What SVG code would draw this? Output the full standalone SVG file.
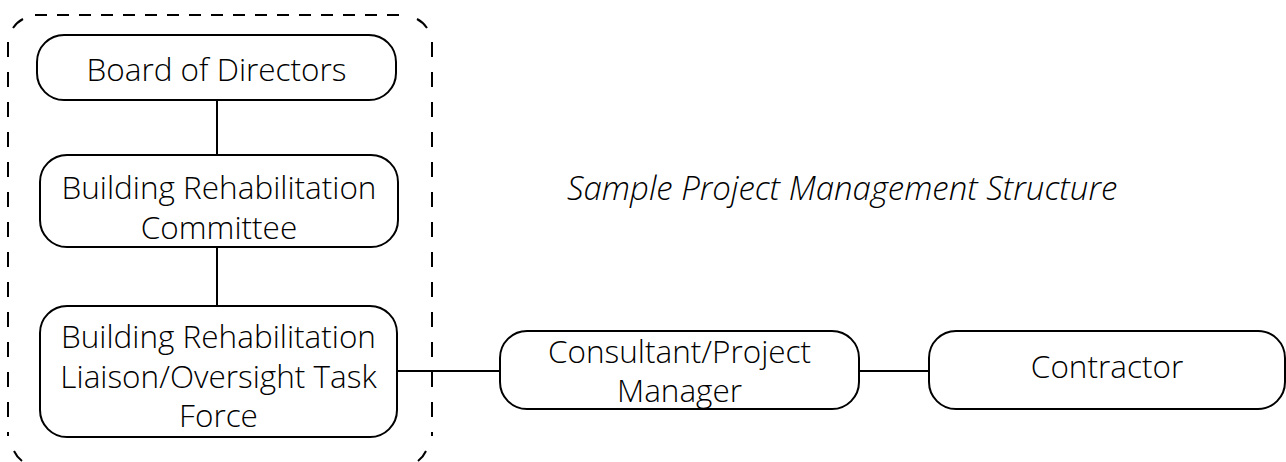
<svg xmlns="http://www.w3.org/2000/svg" width="1286" height="462" viewBox="0 0 1286 462">
  <style>
    .box { fill: #ffffff; stroke: #000000; stroke-width: 2; }
    .lbl { font-family: "Open Sans", Lato, "Liberation Sans", sans-serif; font-weight: 300; font-size: 31.5px; fill: #000000; text-anchor: middle; font-variant-ligatures: none; }
    .title { font-family: "Open Sans", Lato, "Liberation Sans", sans-serif; font-weight: 300; font-size: 33px; font-style: italic; fill: #000000; font-variant-ligatures: none; }
    .wire { stroke: #000000; stroke-width: 2; fill: none; }
    .group-edge { stroke: #000000; stroke-width: 2; fill: none; }
  </style>
  <rect width="1286" height="462" fill="#ffffff"/>

  <!-- dashed boundary around the board-side bodies -->
  <g id="board-group">
    <path class="group-edge" stroke-dasharray="12 10" d="M 35 15 H 405"/>
    <path class="group-edge" stroke-dasharray="15 15" d="M 8 42 V 436"/>
    <path class="group-edge" stroke-dasharray="15 15" d="M 432 42 V 436"/>
    <path class="group-edge" d="M 13 28 A 27 27 0 0 1 23 19"/>
    <path class="group-edge" d="M 417 19 A 27 27 0 0 1 427 28"/>
    <path class="group-edge" d="M 14 451 A 27 27 0 0 0 22 461"/>
    <path class="group-edge" d="M 418 461 A 27 27 0 0 0 426 451"/>
  </g>

  <g id="connectors">
    <line class="wire" x1="217" y1="100" x2="217" y2="155"/>
    <line class="wire" x1="217" y1="247" x2="217" y2="306"/>
    <line class="wire" x1="397" y1="371" x2="500" y2="371"/>
    <line class="wire" x1="859" y1="371" x2="929" y2="371"/>
  </g>

  <g id="board-of-directors">
    <rect class="box" x="37" y="35" width="359" height="65" rx="27"/>
    <text class="lbl" x="216.5" y="81">Board of Directors</text>
  </g>

  <g id="rehab-committee">
    <rect class="box" x="40" y="155" width="358" height="92" rx="27"/>
    <text class="lbl" x="219" y="199">Building Rehabilitation</text>
    <text class="lbl" x="219" y="239">Committee</text>
  </g>

  <g id="liaison-task-force">
    <rect class="box" x="40" y="306" width="357" height="131" rx="27"/>
    <text class="lbl" x="218.5" y="348">Building Rehabilitation</text>
    <text class="lbl" x="218.5" y="388">Liaison/Oversight Task</text>
    <text class="lbl" x="218.5" y="427">Force</text>
  </g>

  <g id="consultant-pm">
    <rect class="box" x="500" y="331" width="359" height="78" rx="27"/>
    <text class="lbl" x="679.5" y="363">Consultant/Project</text>
    <text class="lbl" x="679.5" y="402">Manager</text>
  </g>

  <g id="contractor">
    <rect class="box" x="929" y="331" width="356" height="78" rx="27"/>
    <text class="lbl" x="1107" y="378">Contractor</text>
  </g>

  <text class="title" x="567" y="200">Sample Project Management Structure</text>
</svg>
